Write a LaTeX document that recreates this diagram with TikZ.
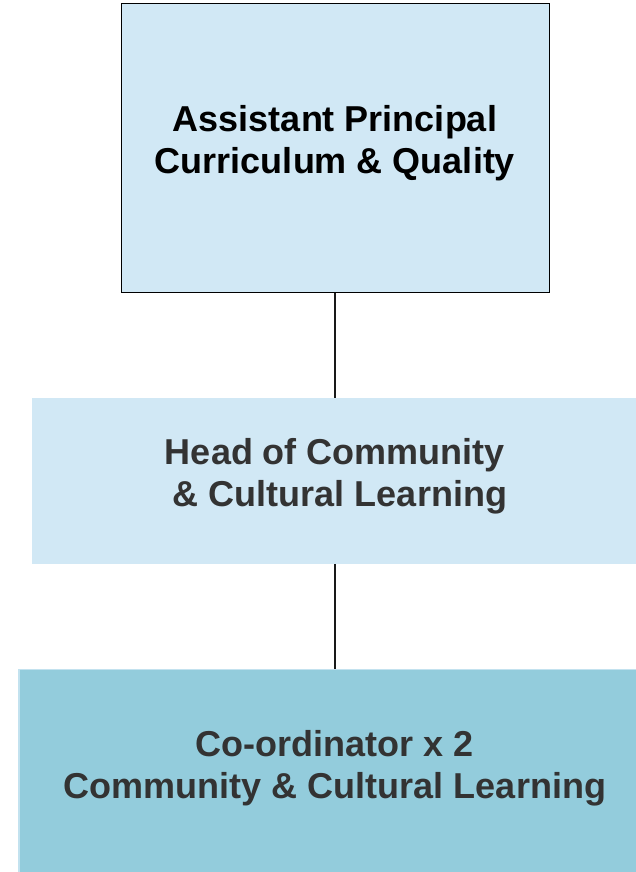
\documentclass[tikz,border=0pt]{standalone}
\usepackage{fontspec}
\setmainfont{Liberation Sans}
\definecolor{paleblue}{HTML}{D1E8F5}
\definecolor{midblue}{HTML}{93CCDC}
\definecolor{midedge}{HTML}{C3E2EF}
\definecolor{darktext}{HTML}{333333}
\begin{document}
\begin{tikzpicture}[x=1pt,y=1pt,
  lbl/.style={anchor=base,inner sep=0pt,font=\bfseries\fontsize{36}{42}\selectfont},
  conn/.style={draw=black!90,line width=1.1pt}]
\useasboundingbox (0,0) rectangle (636,872);
\clip (0,0) rectangle (636,872);
% boxes
\node[draw=black,line width=1.4pt,fill=paleblue,minimum width=428pt,minimum height=289pt,inner sep=0pt,anchor=south west] (ap) at (121,579) {};
\node[fill=paleblue,minimum width=610pt,minimum height=166pt,inner sep=0pt,anchor=south west] (hd) at (32,308) {};
\node[draw=midedge,line width=1.5pt,fill=midblue,minimum width=630pt,minimum height=210pt,inner sep=0pt,anchor=north west] (co) at (18,203) {};
% connectors
\coordinate (apb) at (335,579);
\coordinate (hdt) at (335,474);
\coordinate (hdb) at (335,308);
\coordinate (cot) at (335,203);
\draw[conn] (apb) -- (hdt);
\draw[conn] (hdb) -- (cot);
% texts
\node[lbl,text=black] (ap1) at (335,740.3) {Assistant Principal};
\node[lbl,text=black] (ap2) at (335,698) {Curriculum \& Quality};
\node[lbl,text=darktext] (hd1) at (335,407.5) {Head of Community};
\node[lbl,text=darktext] (hd2) at (335,365.8) {\hspace*{10pt}\& Cultural Learning};
\node[lbl,text=darktext] (co1) at (335,115.3) {Co-ordinator x 2};
\node[lbl,text=darktext] (co2) at (335,73.7) {Community \& Cultural Learning};
\end{tikzpicture}
\end{document}
